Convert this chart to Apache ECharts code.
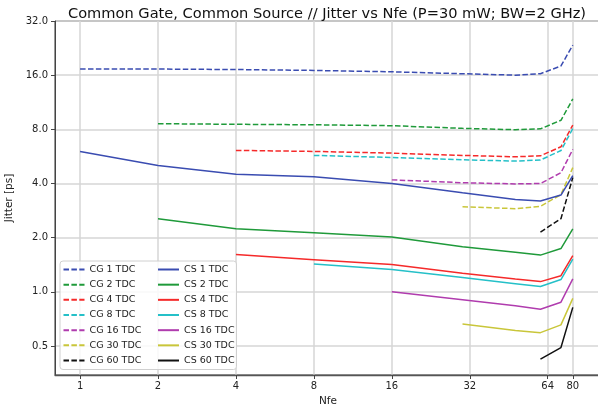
<!DOCTYPE html>
<html>
<head>
<meta charset="utf-8">
<script src="https://cdn.jsdelivr.net/npm/echarts@6/dist/echarts.min.js"></script>
<style>
  html, body { margin: 0; padding: 0; background: #fff; }
  #chart { width: 598px; height: 409px; }
</style>
</head>
<body>
<div id="chart"></div>
<script>
// Nfe sample points (x), shared by every curve
const nfe = [1, 2, 4, 8, 16, 30, 48, 60, 72, 80];

// jitter [ps], common gate (dashed)
const cg1  = [17.3, 17.3, 17.2, 17.0, 16.7, 16.3, 16.0, 16.3, 18.0, 23.5];
const cg2  = [null, 8.6, 8.53, 8.48, 8.38, 8.1, 7.96, 8.05, 8.98, 11.8];
const cg4  = [null, null, 6.11, 6.03, 5.9, 5.73, 5.63, 5.7, 6.4, 8.45];
const cg8  = [null, null, null, 5.73, 5.58, 5.42, 5.33, 5.4, 6.1, 8.07];
const cg16 = [null, null, null, null, 4.19, 4.04, 3.98, 4.0, 4.59, 6.19];
const cg30 = [null, null, null, null, null, 2.97, 2.9, 2.99, 3.47, 4.9];
const cg60 = [null, null, null, null, null, null, null, 2.15, 2.55, 4.32];

// jitter [ps], common source (solid)
const cs1  = [6.03, 5.04, 4.5, 4.36, 4.0, 3.55, 3.26, 3.2, 3.45, 4.43];
const cs2  = [null, 2.55, 2.24, 2.13, 2.02, 1.78, 1.66, 1.6, 1.74, 2.24];
const cs4  = [null, null, 1.61, 1.51, 1.42, 1.27, 1.18, 1.14, 1.23, 1.59];
const cs8  = [null, null, null, 1.43, 1.33, 1.2, 1.11, 1.07, 1.17, 1.52];
const cs16 = [null, null, null, null, 1.0, 0.905, 0.836, 0.8, 0.876, 1.18];
const cs30 = [null, null, null, null, null, 0.663, 0.61, 0.593, 0.655, 0.92];
const cs60 = [null, null, null, null, null, null, null, 0.423, 0.49, 0.82];

const xTicks = [1, 2, 4, 8, 16, 32, 64, 80];
const yTicks = [0.5, 1, 2, 4, 8, 16, 32];

const tdc = ['1', '2', '4', '8', '16', '30', '60'];
const colors = ['#3a4cb1', '#1f9a3a', '#f52a2a', '#25c0c8', '#b03cae', '#c9c63a', '#111111'];
const cgData = [cg1, cg2, cg4, cg8, cg16, cg30, cg60];
const csData = [cs1, cs2, cs4, cs8, cs16, cs30, cs60];

// both axes are log2
const toPairs = vals => nfe
  .map((n, i) => vals[i] == null ? null : [Math.log2(n), Math.log2(vals[i])])
  .filter(p => p);

const series = [];
const cgNames = [], csNames = [];
tdc.forEach((t, i) => {
  cgNames.push('CG ' + t + ' TDC');
  series.push({
    name: 'CG ' + t + ' TDC', type: 'line', data: toPairs(cgData[i]),
    symbol: 'none', color: colors[i],
    lineStyle: { width: 1.5, type: [5.5, 2.4] }
  });
});
tdc.forEach((t, i) => {
  csNames.push('CS ' + t + ' TDC');
  series.push({
    name: 'CS ' + t + ' TDC', type: 'line', data: toPairs(csData[i]),
    symbol: 'none', color: colors[i],
    lineStyle: { width: 1.5 }
  });
});

const font = 'DejaVu Sans';
const chart = echarts.init(document.getElementById('chart'), null, { renderer: 'canvas' });

const legendBase = {
  orient: 'vertical', top: 263.5, padding: 0,
  itemWidth: 21, itemHeight: 12, itemGap: 3.17,
  selectedMode: false, z: 5,
  itemStyle: { opacity: 0 },
  textStyle: { fontFamily: font, fontSize: 9.5, color: '#222', lineHeight: 12 }
};

const option = {
  animation: false,
  title: {
    text: 'Common Gate, Common Source // Jitter vs Nfe (P=30 mW; BW=2 GHz)',
    left: 63, top: 2,
    textStyle: { fontFamily: font, fontSize: 14.6, fontWeight: 'normal', color: '#111' }
  },
  grid: {
    left: 55, top: 21, right: -3, bottom: 34,
    outerBoundsMode: 'none', containLabel: false,
    show: true, borderColor: '#333', borderWidth: 1
  },
  legend: [
    Object.assign({ left: 62.5, data: cgNames }, legendBase),
    Object.assign({ left: 157, data: csNames }, legendBase)
  ],
  graphic: [{
    type: 'rect', z: 4,
    shape: { x: 60, y: 261, width: 176.5, height: 108.5, r: 3 },
    style: { fill: 'rgba(255,255,255,0.85)', stroke: '#d0d0d0', lineWidth: 1 }
  }],
  xAxis: {
    type: 'value',
    min: Math.log2(0.8), max: Math.log2(100) + 0.04,
    name: 'Nfe', nameLocation: 'middle', nameGap: 18,
    nameTextStyle: { fontFamily: font, fontSize: 10.5, color: '#222' },
    axisLine: { onZero: false, lineStyle: { color: '#555', width: 1.3 } },
    axisTick: { customValues: xTicks.map(Math.log2), length: 4, lineStyle: { color: '#444' } },
    axisLabel: {
      customValues: xTicks.map(Math.log2), margin: 6,
      fontFamily: font, fontSize: 10, color: '#222',
      formatter: v => String(Math.round(Math.pow(2, v)))
    },
    splitLine: { show: true, lineStyle: { color: '#d6d6d6', width: 1.5 } }
  },
  yAxis: {
    type: 'value',
    min: Math.log2(0.345), max: 5,
    name: 'Jitter [ps]', nameLocation: 'middle', nameGap: 33,
    nameTextStyle: { fontFamily: font, fontSize: 10.5, color: '#222' },
    axisLine: { show: true, onZero: false, lineStyle: { color: '#444', width: 1 } },
    axisTick: { show: true, customValues: yTicks.map(Math.log2), length: 4, lineStyle: { color: '#444' } },
    axisLabel: {
      customValues: yTicks.map(Math.log2), margin: 7,
      fontFamily: font, fontSize: 10, color: '#222',
      formatter: v => Math.pow(2, v).toFixed(1)
    },
    splitLine: { show: true, lineStyle: { color: '#d6d6d6', width: 1.5 } }
  },
  series: series
};

chart.setOption(option);
</script>
</body>
</html>
